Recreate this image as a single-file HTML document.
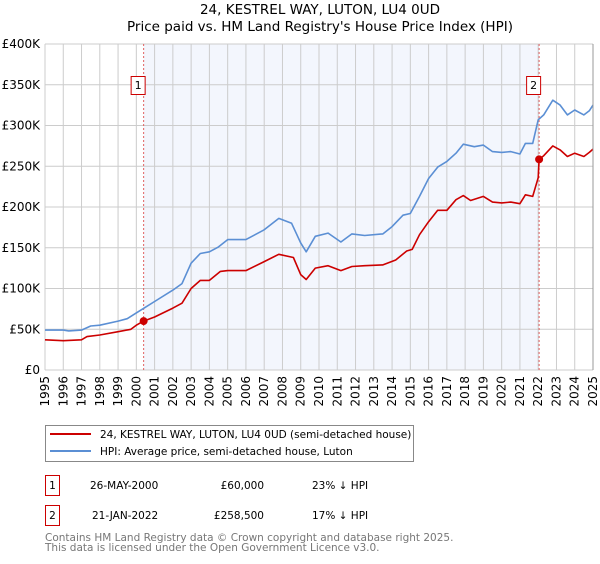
<!DOCTYPE html>
<html><head><meta charset="utf-8"><style>
body{margin:0;background:#fff;font-family:"DejaVu Sans","Liberation Sans",sans-serif;}
svg text{font-family:"DejaVu Sans","Liberation Sans",sans-serif;}
</style></head><body>
<svg id="chart" width="600" height="560" xmlns="http://www.w3.org/2000/svg">
<text x="320" y="14" text-anchor="middle" font-size="13.5">24, KESTREL WAY, LUTON, LU4 0UD</text>
<text x="320" y="31" text-anchor="middle" font-size="13.5">Price paid vs. HM Land Registry's House Price Index (HPI)</text>
<g id="plot"></g>
<g>
<rect x="45.5" y="425.5" width="368" height="36" fill="#fff" stroke="#888"/>
<line x1="50" y1="434" x2="91" y2="434" stroke="#cc0000" stroke-width="2"/>
<text x="100" y="438" font-size="10.5">24, KESTREL WAY, LUTON, LU4 0UD (semi-detached house)</text>
<line x1="50" y1="451" x2="91" y2="451" stroke="#5b8fd4" stroke-width="2"/>
<text x="100" y="455" font-size="10.5">HPI: Average price, semi-detached house, Luton</text>
</g>
<g font-size="10.5">
<rect x="45.5" y="475.5" width="14" height="20" fill="#fff" stroke="#cc0000"/>
<text x="52.5" y="489" text-anchor="middle">1</text>
<text x="90" y="489">26-MAY-2000</text>
<text x="264" y="489" text-anchor="end">£60,000</text>
<text x="312" y="489">23% ↓ HPI</text>
<rect x="45.5" y="505.5" width="14" height="20" fill="#fff" stroke="#cc0000"/>
<text x="52.5" y="519" text-anchor="middle">2</text>
<text x="92" y="519">21-JAN-2022</text>
<text x="264" y="519" text-anchor="end">£258,500</text>
<text x="312" y="519">17% ↓ HPI</text>
</g>
<text x="45" y="541" font-size="10.5" fill="#777">Contains HM Land Registry data © Crown copyright and database right 2025.</text>
<text x="45" y="551" font-size="10.5" fill="#777">This data is licensed under the Open Government Licence v3.0.</text>
</svg>
<script>
const hpiYears=[1995,1996,1996.3,1997,1997.5,1998,1999,1999.5,2000,2000.5,2001,2002,2002.5,2003,2003.5,2004,2004.5,2005,2006,2007,2007.8,2008.5,2009,2009.3,2009.8,2010.5,2011.2,2011.8,2012.5,2013.5,2014,2014.6,2015,2015.5,2016,2016.5,2017,2017.5,2017.9,2018.5,2019,2019.5,2020,2020.5,2021,2021.3,2021.7,2022,2022.3,2022.8,2023.2,2023.6,2024,2024.5,2024.8,2025];
const hpiValues=[49,49,48,49,54,55,60,63,70,77,84,98,106,131,143,145,151,160,160,172,186,180,156,145,164,168,157,167,165,167,176,190,192,213,235,249,256,266,277,274,276,268,267,268,265,278,278,307,313,331,325,313,319,313,318,325];
const priceYears=[1995,1996,1997,1997.3,1998,1999,1999.7,2000,2000.4,2001,2002,2002.5,2003,2003.5,2004,2004.6,2005,2006,2007,2007.8,2008.6,2009,2009.3,2009.8,2010.5,2011.2,2011.8,2012.5,2013.5,2014.2,2014.8,2015.1,2015.5,2016,2016.5,2017,2017.5,2017.9,2018.3,2019,2019.5,2020,2020.5,2021,2021.3,2021.7,2022,2022.05,2022.3,2022.8,2023.2,2023.6,2024,2024.5,2024.8,2025];
const priceValues=[37,36,37,41,43,47,50,55,60,65,76,82,100,110,110,121,122,122,133,142,138,117,111,125,128,122,127,128,129,135,146,148,166,182,196,196,209,214,208,213,206,205,206,204,215,213,236,258.5,263,275,270,262,266,262,267,271];
const yTicks=[0,50,100,150,200,250,300,350,400];
const yTickLabels=["£0","£50K","£100K","£150K","£200K","£250K","£300K","£350K","£400K"];
const xTicks=[1995,1996,1997,1998,1999,2000,2001,2002,2003,2004,2005,2006,2007,2008,2009,2010,2011,2012,2013,2014,2015,2016,2017,2018,2019,2020,2021,2022,2023,2024,2025];
const saleYears=[2000.4,2022.05];
const salePrices=[60,258.5];
const saleLabels=["1","2"];

const X0=45,X1=593,Y0=370,Y1=44;
const xs=y=>X0+(y-1995)/(2025-1995)*(X1-X0);
const ys=v=>Y0-v/400*(Y0-Y1);
const NS="http://www.w3.org/2000/svg";
const g=document.getElementById('plot');
function mk(t,a){const e=document.createElementNS(NS,t);for(const k in a)e.setAttribute(k,a[k]);g.appendChild(e);return e;}
let e=mk('rect',{x:xs(saleYears[0]),y:Y1,width:xs(saleYears[1])-xs(saleYears[0]),height:Y0-Y1,fill:'#f3f6fd'});


for(const t of xTicks){
 e=mk('line',{x1:xs(t),x2:xs(t),y1:Y1,y2:Y0,stroke:'#ccc'});
 
 
 e=mk('text',{x:0,y:0,transform:`translate(${xs(t)+4},${Y0+6}) rotate(-90)`,'text-anchor':'end','font-size':'12'});
 e.textContent=t;
 
 
}
yTicks.forEach((t,i)=>{
 e=mk('line',{x1:X0,x2:X1,y1:ys(t),y2:ys(t),stroke:'#ccc'});
 
 
 e=mk('text',{x:40,y:ys(t)+4,'text-anchor':'end','font-size':'12'});
 e.textContent=yTickLabels[i];
 
 
});
saleYears.forEach((s,i)=>{
 e=mk('line',{x1:xs(s),x2:xs(s),y1:Y1,y2:Y0,stroke:'#e06060','stroke-dasharray':'2,2'});
 
 
});
function path(xa,va,col,name){
 const d=xa.map((x,i)=>(i?'L':'M')+xs(x).toFixed(1)+','+ys(va[i]).toFixed(1)).join('');
 const p=mk('path',{d,fill:'none',stroke:col,'stroke-width':1.6,'stroke-linejoin':'round'});
 
 
}
path(hpiYears,hpiValues,'#5b8fd4','hpi-line');
path(priceYears,priceValues,'#cc0000','price-line');
saleYears.forEach((s,i)=>{
 e=mk('circle',{cx:xs(s),cy:ys(salePrices[i]),r:4,fill:'#cc0000'});
 
 
 e=mk('rect',{x:xs(s)-12.5,y:76.5,width:14,height:18,fill:'#fff',stroke:'#cc0000'});
 
 
 e=mk('text',{x:xs(s)-5.5,y:89,'text-anchor':'middle','font-size':'11'});
 e.textContent=saleLabels[i];
 
 
});
e=mk('line',{x1:X1,x2:X1,y1:Y1,y2:Y0,stroke:'#999'});


</script>
</body></html>
